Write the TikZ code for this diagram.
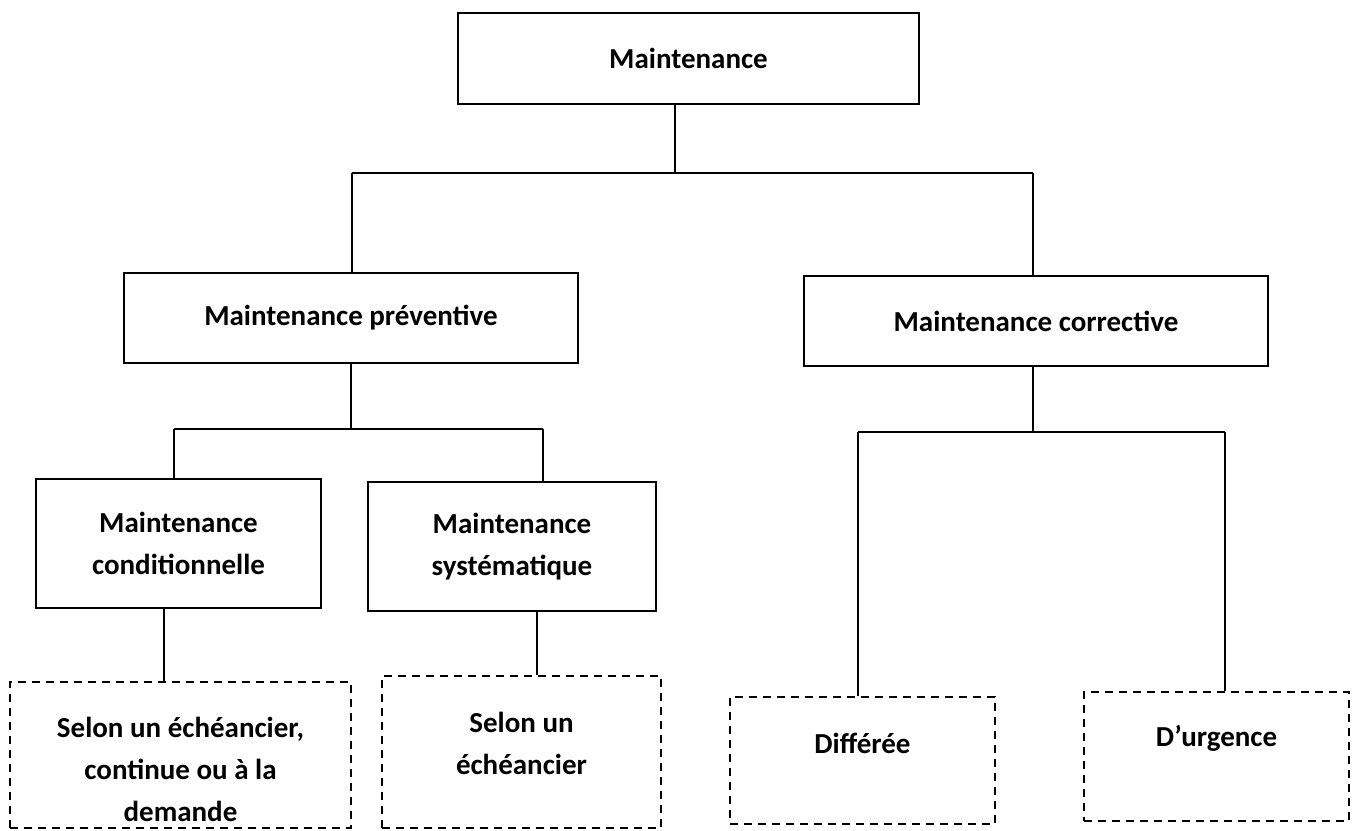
\documentclass[tikz,border=0pt]{standalone}
\usepackage{fontspec}
\setmainfont{Carlito}
\begin{document}
\begin{tikzpicture}[x=0.5pt,y=-0.5pt,
  every node/.style={font=\fontsize{14.5}{21}\selectfont\bfseries},
  solidbox/.style={draw,line width=1pt,inner sep=0pt,align=center},
  dashbox/.style={draw,line width=1.25pt,dash pattern=on 4pt off 3pt,inner sep=0pt},
  txt/.style={align=center,inner sep=0pt},
  conn/.style={line width=0.9pt}]
\useasboundingbox (0,0) rectangle (1359,830);
% solid boxes
\node[solidbox,minimum width=230.5pt,minimum height=45.5pt] (m) at (688.5,58.5) {Maintenance};
\node[solidbox,minimum width=227pt,minimum height=45pt] (p) at (351,318) {Maintenance préventive};
\node[solidbox,minimum width=232pt,minimum height=45pt] (c) at (1036,321) {Maintenance corrective};
\node[solidbox,minimum width=142.5pt,minimum height=64.5pt] (pc) at (178.5,543.5) {Maintenance\\conditionnelle};
\node[solidbox,minimum width=144pt,minimum height=64.5pt] (ps) at (512,546.5) {Maintenance\\systématique};
% dashed boxes
\node[dashbox,minimum width=170.5pt,minimum height=73pt] (d1) at (180.5,755) {};
\node[txt] (d1t) at (180.5,769) {Selon un échéancier,\\continue ou à la\\demande};
\node[dashbox,minimum width=139.5pt,minimum height=76pt] (d2) at (521.5,752) {};
\node[txt] (d2t) at (521.5,743) {Selon un\\échéancier};
\node[dashbox,minimum width=132.5pt,minimum height=63.5pt] (d3) at (862.5,760.5) {};
\node[txt] (d3t) at (862.5,743) {Différée};
\node[dashbox,minimum width=132.5pt,minimum height=64.5pt] (d4) at (1216.5,756.5) {};
\node[txt] (d4t) at (1216.5,738) {D’urgence};
% junctions
\coordinate (j0) at (675,173);
\coordinate (jl) at (352,173);
\coordinate (jr) at (1033,173);
\coordinate (k0) at (351,429);
\coordinate (kl) at (174,429);
\coordinate (kr) at (543,429);
\coordinate (q0) at (1033,432);
\coordinate (ql) at (858,432);
\coordinate (qr) at (1225,432);
\coordinate (s1) at (164,608);
\coordinate (s2) at (537,611);
% connectors
\draw[conn] (m.south -| j0) -- (j0);
\draw[conn] (jl) -- (jr);
\draw[conn] (jl) -- (p.north -| jl);
\draw[conn] (jr) -- (c.north -| jr);
\draw[conn] (p.south -| k0) -- (k0);
\draw[conn] (kl) -- (kr);
\draw[conn] (kl) -- (pc.north -| kl);
\draw[conn] (kr) -- (ps.north -| kr);
\draw[conn] (c.south -| q0) -- (q0);
\draw[conn] (ql) -- (qr);
\draw[conn] (ql) -- (d3.north -| ql);
\draw[conn] (qr) -- (d4.north -| qr);
\draw[conn] (pc.south -| s1) -- (d1.north -| s1);
\draw[conn] (ps.south -| s2) -- (d2.north -| s2);
\end{tikzpicture}
\end{document}
